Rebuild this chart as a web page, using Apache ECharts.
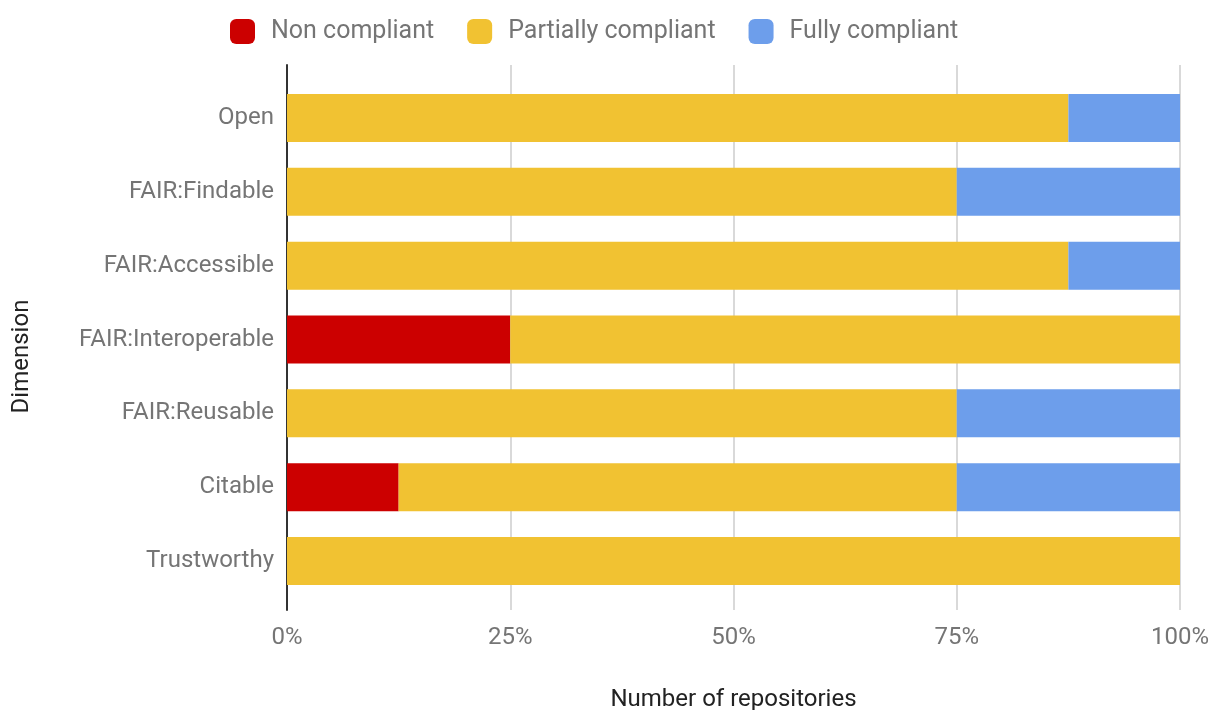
<!DOCTYPE html>
<html><head><meta charset="utf-8">
<script src="https://cdn.jsdelivr.net/npm/echarts@6/dist/echarts.min.js"></script>
<style>html,body{margin:0;padding:0;background:#fff}#c{width:1212px;height:710px}</style>
</head><body><div id="c"></div>
<script>
const categories = ['Open','FAIR:Findable','FAIR:Accessible','FAIR:Interoperable','FAIR:Reusable','Citable','Trustworthy'];
const nonCompliant = [0, 0, 0, 25, 0, 12.5, 0];
const partiallyCompliant = [87.5, 75, 87.5, 75, 75, 62.5, 100];
const fullyCompliant = [12.5, 25, 12.5, 0, 25, 25, 0];
const xTicks = [0, 25, 50, 75, 100];

const chart = echarts.init(document.getElementById('c'));
const font = 'Roboto, "Noto Sans", sans-serif';
chart.setOption({
  animation: false,
  textStyle: {fontFamily: font},
  legend: {
    top: 14, left: 225,
    itemWidth: 25, itemHeight: 25, itemGap: 33,
    icon: 'roundRect',
    textStyle: {fontSize: 25, color: '#757575', fontFamily: font, padding: [0, 0, 0, 11]},
    data: ['Non compliant', 'Partially compliant', 'Fully compliant']
  },
  grid: [
    {left: 287, right: 32, top: 65, bottom: 100, containLabel: false, outerBoundsMode: 'none'},
    {left: 287, right: 32, top: 81, bottom: 112, containLabel: false, outerBoundsMode: 'none'}
  ],
  xAxis: [
    {gridIndex: 0, type: 'value', min: xTicks[0], max: xTicks[xTicks.length-1], interval: 25,
     axisLine: {show: false}, axisTick: {show: false},
     splitLine: {lineStyle: {color: '#cccccc', width: 1.5}},
     axisLabel: {formatter: '{value}%', fontSize: 24, color: '#757575', margin: 16, fontFamily: font},
     name: 'Number of repositories', nameLocation: 'middle', nameGap: 78,
     nameTextStyle: {fontSize: 24, color: '#222', fontFamily: font}},
    {gridIndex: 1, type: 'value', min: 0, max: 100, show: false}
  ],
  yAxis: [
    {gridIndex: 0, type: 'value', min: 0, max: 1,
     axisLine: {show: true, onZero: false, lineStyle: {color: '#333', width: 2}},
     axisTick: {show: false}, axisLabel: {show: false}, splitLine: {show: false},
     name: 'Dimension', nameLocation: 'middle', nameGap: 253, nameRotate: 90,
     nameTextStyle: {fontSize: 24, color: '#222', fontFamily: font, padding: [0, 0, 0, -38]}},
    {gridIndex: 1, type: 'category', inverse: true, data: categories,
     axisLine: {show: false}, axisTick: {show: false}, splitLine: {show: false},
     axisLabel: {fontSize: 24, color: '#757575', margin: 13, fontFamily: font}}
  ],
  series: [
    {name: 'Non compliant', type: 'bar', stack: 's', xAxisIndex: 1, yAxisIndex: 1, data: nonCompliant,
     barWidth: 48, itemStyle: {color: '#cc0000'}},
    {name: 'Partially compliant', type: 'bar', stack: 's', xAxisIndex: 1, yAxisIndex: 1, data: partiallyCompliant,
     barWidth: 48, itemStyle: {color: '#f1c232'}},
    {name: 'Fully compliant', type: 'bar', stack: 's', xAxisIndex: 1, yAxisIndex: 1, data: fullyCompliant,
     barWidth: 48, itemStyle: {color: '#6d9eeb'}}
  ]
});
</script></body></html>
